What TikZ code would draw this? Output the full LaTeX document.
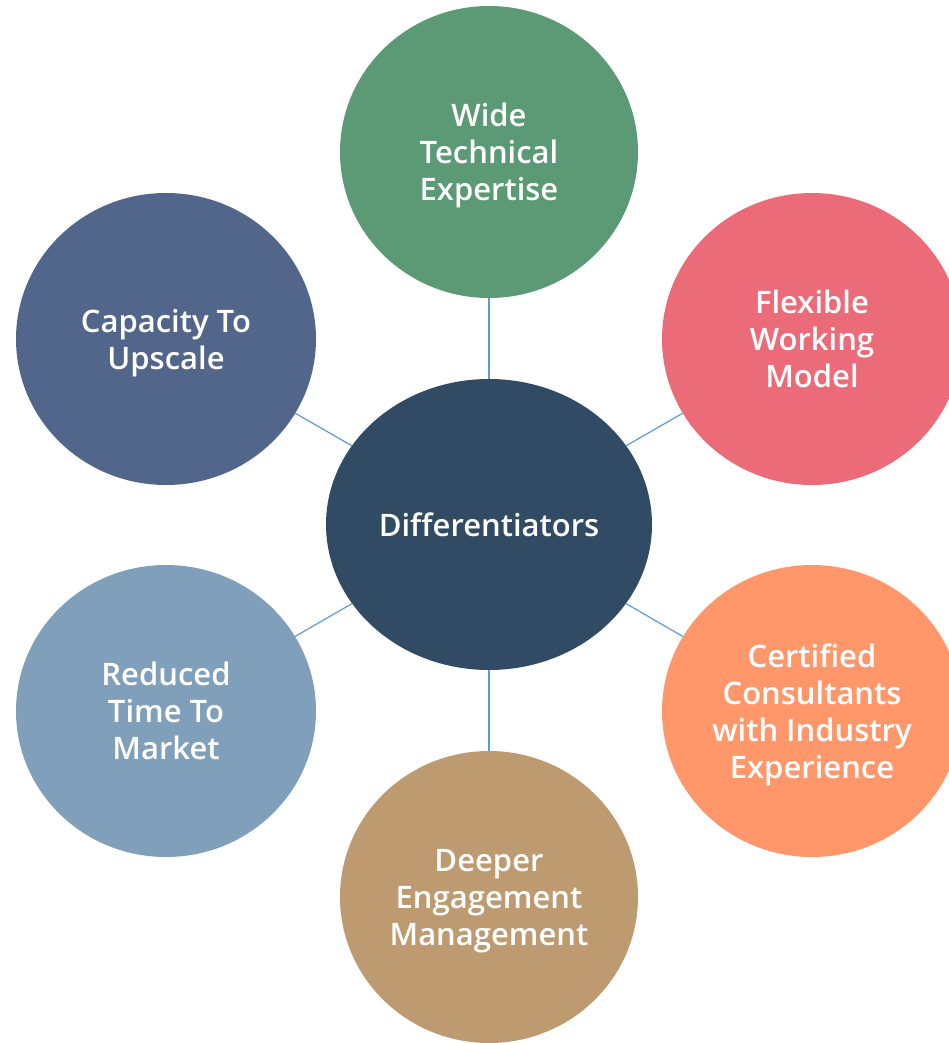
\documentclass[tikz,border=0pt]{standalone}
\usepackage{fontspec}
\IfFontExistsTF{Open Sans Semibold}{\setmainfont{Open Sans Semibold}\def\fs{31}}{%
  \IfFontExistsTF{OpenSans-Semibold}{\setmainfont{OpenSans-Semibold}\def\fs{31}}{%
    \setmainfont{Open Sans}[UprightFont=*-Bold]\def\fs{30}}}
\usetikzlibrary{shapes.geometric}
\definecolor{cgreen}{HTML}{5B9A74}
\definecolor{cpink}{HTML}{EC6B78}
\definecolor{corange}{HTML}{FF976B}
\definecolor{ctan}{HTML}{BD9A70}
\definecolor{cltblue}{HTML}{7F9FBA}
\definecolor{cslate}{HTML}{51668A}
\definecolor{ccenter}{HTML}{324B64}
\definecolor{cline}{HTML}{5B9BD5}
\tikzset{
  bubble/.style={ellipse, minimum width=300pt, minimum height=292pt, inner sep=0pt,
    text=white, align=center, text depth=0pt, font=\fontsize{\fs}{37}\selectfont},
  hub/.style={ellipse, minimum width=326pt, minimum height=291pt, inner sep=0pt,
    fill=ccenter, text=white, font=\fontsize{\fs}{37}\selectfont},
  link/.style={draw=cline, line width=1.2pt}
}
\begin{document}
\begin{tikzpicture}[x=1pt,y=-1pt]
\useasboundingbox (0,0) rectangle (948,1043);
\node[hub] (c) at (489,524.5) {Differentiators};
\node[bubble, fill=cgreen, minimum width=298pt] (t) at (489,152) {Wide\\Technical\\Expertise};
\node[bubble, fill=cpink] (rt) at (812,339) {Flexible\\Working\\Model};
\node[bubble, fill=corange] (rb) at (812,711) {Certified\\Consultants\\with Industry\\Experience};
\node[bubble, fill=ctan, minimum width=298pt] (b) at (489,897) {Deeper\\Engagement\\Management};
\node[bubble, fill=cltblue] (lb) at (166,711) {Reduced\\Time To\\Market};
\node[bubble, fill=cslate] (lt) at (166,339) {Capacity To\\Upscale};
\draw[link] (c) -- (t);
\draw[link] (c) -- (rt);
\draw[link] (c) -- (rb);
\draw[link] (c) -- (b);
\draw[link] (c) -- (lb);
\draw[link] (c) -- (lt);
\end{tikzpicture}
\end{document}
